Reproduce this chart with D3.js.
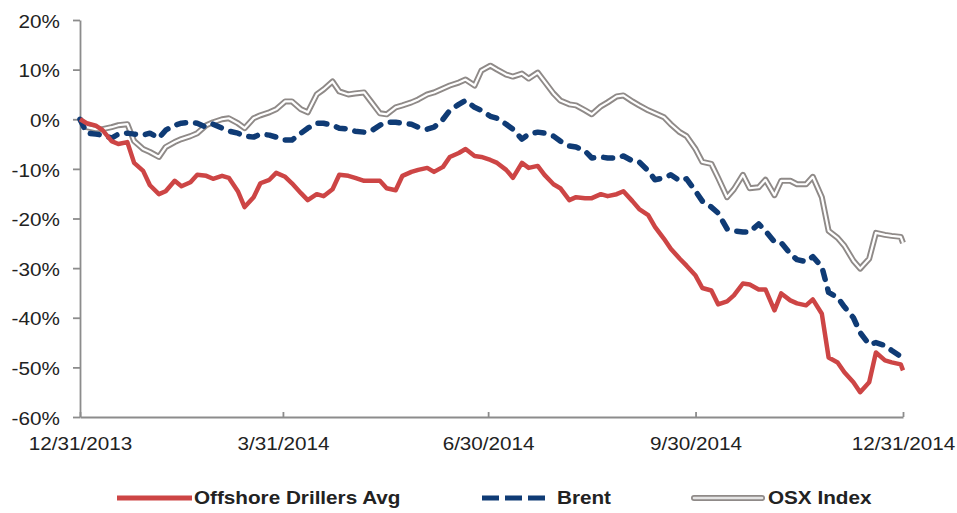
<!DOCTYPE html>
<html>
<head>
	<title></title>
	<meta charset="utf-8">
	<script src="https://cdn.jsdelivr.net/npm/d3@7"></script>
	<style>
		body { margin: 0; background: #fff; }
		text { font-family: "Liberation Sans", Arial, Helvetica, sans-serif; fill: #222; }
	</style>
</head>
<body>

	<script type="text/javascript">

		// dates sampled twice a week through 2014
		var dates = [
			"2013-12-31","2014-01-03","2014-01-07","2014-01-10","2014-01-14","2014-01-17","2014-01-21","2014-01-24","2014-01-28","2014-01-31",
			"2014-02-04","2014-02-07","2014-02-11","2014-02-14","2014-02-18","2014-02-21","2014-02-25","2014-02-28",
			"2014-03-04","2014-03-07","2014-03-11","2014-03-14","2014-03-18","2014-03-21","2014-03-25","2014-03-28",
			"2014-04-01","2014-04-04","2014-04-08","2014-04-11","2014-04-15","2014-04-18","2014-04-22","2014-04-25","2014-04-29",
			"2014-05-02","2014-05-06","2014-05-09","2014-05-13","2014-05-16","2014-05-20","2014-05-23","2014-05-27","2014-05-30",
			"2014-06-03","2014-06-06","2014-06-10","2014-06-13","2014-06-17","2014-06-20","2014-06-24","2014-06-27",
			"2014-07-01","2014-07-04","2014-07-08","2014-07-11","2014-07-15","2014-07-18","2014-07-22","2014-07-25","2014-07-29",
			"2014-08-01","2014-08-05","2014-08-08","2014-08-12","2014-08-15","2014-08-19","2014-08-22","2014-08-26","2014-08-29",
			"2014-09-02","2014-09-05","2014-09-09","2014-09-12","2014-09-16","2014-09-19","2014-09-23","2014-09-26","2014-09-30",
			"2014-10-03","2014-10-07","2014-10-10","2014-10-14","2014-10-17","2014-10-21","2014-10-24","2014-10-28","2014-10-31",
			"2014-11-04","2014-11-07","2014-11-11","2014-11-14","2014-11-18","2014-11-21","2014-11-25","2014-11-28",
			"2014-12-02","2014-12-05","2014-12-09","2014-12-12","2014-12-16","2014-12-19","2014-12-23","2014-12-26","2014-12-30","2014-12-31"
		]

		// % change since 12/31/2013
		var drillers = [
			0, -0.8, -1.3, -2.2, -4.4, -5.0, -4.6, -8.8, -10.4, -13.3,
			-15.1, -14.5, -12.4, -13.5, -12.7, -11.2, -11.4, -12.0,
			-11.4, -11.8, -14.5, -17.7, -15.7, -12.9, -12.2, -10.8,
			-11.6, -12.9, -14.9, -16.3, -15.1, -15.5, -14.1, -11.2, -11.4,
			-11.8, -12.4, -12.4, -12.4, -13.9, -14.3, -11.4, -10.6, -10.2,
			-9.8, -10.6, -9.6, -7.6, -6.8, -6.0, -7.4, -7.6,
			-8.2, -8.8, -10.2, -11.8, -8.8, -9.8, -9.4, -11.2, -13.1,
			-13.9, -16.3, -15.7, -15.9, -15.9, -15.1, -15.5, -15.1, -14.5,
			-16.5, -18.1, -19.3, -21.7, -24.1, -26.1, -28.1, -29.5, -31.5,
			-34.0, -34.5, -37.3, -36.7, -35.5, -33.1, -33.3, -34.3, -34.3,
			-38.5, -35.1, -36.5, -37.1, -37.5, -36.3, -39.2, -48.0,
			-49.0, -51.0, -53.0, -55.0, -53.0, -47.0, -48.6, -49.0, -49.4, -50.6
		]

		var brent = [
			0, -2.8, -3.0, -3.2, -3.8, -3.0, -2.8, -3.0, -3.2, -2.8,
			-3.8, -2.2, -1.2, -0.8, -0.6, -0.8, -1.6, -1.0,
			-1.8, -2.4, -2.8, -3.4, -3.6, -3.0, -3.2, -3.6,
			-4.2, -4.2, -2.8, -1.8, -0.8, -0.8, -1.2, -1.8, -2.0,
			-2.4, -2.6, -2.4, -1.2, -0.6, -0.6, -0.8, -1.0, -1.6,
			-2.0, -1.6, 0, 1.8, 3.0, 3.8, 2.4, 1.8,
			0.6, 0.2, -1.0, -2.0, -4.0, -3.0, -2.6, -2.8, -3.4,
			-4.4, -5.4, -5.6, -6.4, -7.8, -7.6, -7.8, -7.8, -7.4,
			-8.4, -8.6, -10.4, -12.2, -11.8, -11.2, -12.4, -12.0, -14.5,
			-16.5, -17.7, -18.9, -22.1, -22.5, -22.7, -22.7, -21.1, -22.5,
			-24.7, -24.9, -27.1, -28.3, -28.7, -27.7, -29.7, -34.9,
			-35.9, -37.8, -40.0, -43.0, -45.4, -45.0, -45.6, -46.6, -47.8, -48.0
		]

		var osx = [
			0, -1.6, -2.0, -2.0, -1.6, -1.2, -1.0, -4.4, -6.0, -6.6,
			-7.6, -5.6, -4.6, -4.0, -3.4, -2.8, -1.2, -0.6,
			0, 0.2, -0.8, -1.8, 0.2, 0.8, 1.4, 2.0,
			3.6, 3.6, 2.0, 1.4, 5.0, 6.0, 7.6, 5.6, 5.0,
			5.2, 5.4, 3.6, 1.2, 1.0, 2.4, 2.8, 3.4, 4.0,
			5.0, 5.4, 6.2, 6.8, 7.4, 8.0, 6.8, 9.8,
			10.8, 10.0, 9.0, 8.6, 9.2, 8.2, 9.4, 7.6, 5.2,
			3.8, 3.0, 2.8, 1.8, 1.0, 2.6, 3.4, 4.6, 4.8,
			3.6, 2.8, 1.8, 1.2, 0.4, -1.0, -2.6, -3.4, -6.0,
			-8.6, -9.0, -11.8, -15.7, -14.1, -11.2, -13.9, -13.7, -12.2,
			-15.3, -12.4, -12.4, -13.1, -13.1, -11.6, -15.7, -22.5,
			-23.9, -25.5, -28.5, -30.1, -28.1, -22.9, -23.3, -23.5, -23.7, -24.9
		]

		var xTickDates = ["2013-12-31", "2014-03-31", "2014-06-30", "2014-09-30", "2014-12-31"]
		var yTicks = [20, 10, 0, -10, -20, -30, -40, -50, -60]
		var seriesNames = ["Offshore Drillers Avg", "Brent", "OSX Index"]

		var parse = d3.timeParse("%Y-%m-%d")
		var fmt = d3.timeFormat("%-m/%-d/%Y")
		var stretch = 1.15  // the source text is a bit wide

		var svg = d3.select("body").append("svg")
			.attr("width", 957)
			.attr("height", 513)

		var x = d3.scaleTime()
			.domain([parse("2013-12-31"), parse("2014-12-31")])
			.range([80, 903])

		var y = d3.scaleLinear()
			.domain([-60, 20])
			.range([417, 20])

		// axes
		var yAxis = svg.append("g")
			.attr("transform", "translate(80,0)")
			.call(d3.axisLeft(y).tickValues(yTicks).tickSize(7).tickSizeOuter(0).tickPadding(10.5)
				.tickFormat(function (d) { return d + "%" }))
		yAxis.selectAll("text")
			.attr("transform", "scale(" + stretch + ",1)")
			.attr("dy", "0.4em")
			.style("font-size", "18px")

		var xAxis = svg.append("g")
			.attr("transform", "translate(0,417)")
			.call(d3.axisBottom(x).tickValues(xTickDates.map(parse)).tickSize(-5).tickSizeOuter(0).tickPadding(20)
				.tickFormat(fmt))
		xAxis.selectAll("text")
			.attr("transform", "scale(" + stretch + ",1)")
			.style("font-size", "18px")

		svg.selectAll(".domain, .tick line")
			.attr("stroke", "#8c8c8c")
			.attr("stroke-width", 1.8)

		// lines
		var pts = function (vals) {
			return vals.map(function (v, i) { return [parse(dates[i]), v] })
		}
		var line = d3.line()
			.x(function (d) { return x(d[0]) })
			.y(function (d) { return y(d[1]) })

		// OSX drawn as a double line: grey outline, white core
		svg.append("path")
			.attr("d", line(pts(osx)))
			.attr("fill", "none")
			.attr("stroke", "#8f8a88")
			.attr("stroke-width", 6)
			.attr("stroke-linejoin", "round")
		svg.append("path")
			.attr("d", line(pts(osx)))
			.attr("fill", "none")
			.attr("stroke", "#ffffff")
			.attr("stroke-width", 2.2)
			.attr("stroke-linejoin", "round")

		svg.append("path")
			.attr("d", line(pts(brent)))
			.attr("fill", "none")
			.attr("stroke", "#0f3b75")
			.attr("stroke-width", 5.5)
			.attr("stroke-dasharray", "9,10")
			.attr("stroke-linecap", "round")
			.attr("stroke-linejoin", "round")

		svg.append("path")
			.attr("d", line(pts(drillers)))
			.attr("fill", "none")
			.attr("stroke", "#cd4545")
			.attr("stroke-width", 4.5)
			.attr("stroke-linejoin", "round")

		// legend
		var lg = svg.append("g").attr("transform", "translate(0,498)")

		lg.append("line").attr("x1", 117).attr("x2", 192).attr("y1", 0).attr("y2", 0)
			.attr("stroke", "#cd4545").attr("stroke-width", 5)
		lg.append("line").attr("x1", 482).attr("x2", 545).attr("y1", 0).attr("y2", 0)
			.attr("stroke", "#0f3b75").attr("stroke-width", 5)
			.attr("stroke-dasharray", "17,6")
		lg.append("line").attr("x1", 694).attr("x2", 762).attr("y1", 0).attr("y2", 0)
			.attr("stroke", "#8f8a88").attr("stroke-width", 6).attr("stroke-linecap", "round")
		lg.append("line").attr("x1", 694).attr("x2", 762).attr("y1", 0).attr("y2", 0)
			.attr("stroke", "#e4e4e4").attr("stroke-width", 2.6).attr("stroke-linecap", "round")

		var legendX = [194, 557, 768]
		lg.selectAll("text.lbl")
			.data(seriesNames)
			.enter().append("text")
			.attr("class", "lbl")
			.attr("transform", function (d, i) { return "translate(" + legendX[i] + ",0) scale(" + stretch + ",1)" })
			.attr("dy", "0.36em")
			.style("font-size", "18px")
			.style("font-weight", "bold")
			.text(function (d) { return d })

	</script>

</body>
</html>
